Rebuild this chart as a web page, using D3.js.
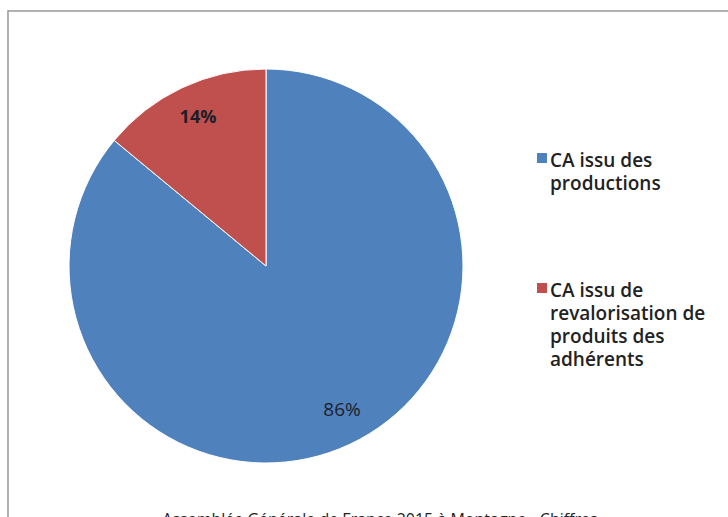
<!DOCTYPE html>
<html lang="fr">
<head>
<meta charset="UTF-8">
<title>CA</title>
<script src="https://d3js.org/d3.v7.min.js"></script>
<style>
  body { margin: 0; background: white; }
  svg { display: block; }
</style>
</head>
<body>
<svg width="728" height="517"></svg>
<script>
  const categories = ["CA issu des productions", "CA issu de revalorisation de produits des adhérents"];
  const values = [86, 14];
  const labels = ["86%", "14%"];
  const colorsList = ["#4F81BD", "#C0504D"];
  const legendLines = [["CA issu des", "productions"], ["CA issu de", "revalorisation de", "produits des", "adhérents"]];
  const caption = "Assemblée Générale de France 2015 à Montagne - Chiffres";

  const svg = d3.select("svg");

  // frame
  svg.append("rect").attr("x", 9).attr("y", 12).attr("width", 740).attr("height", 540)
    .attr("fill", "none").attr("stroke", "#e4e4e4").attr("stroke-width", 3);
  svg.append("rect").attr("x", 8).attr("y", 11).attr("width", 740).attr("height", 540)
    .attr("fill", "white").attr("stroke", "#9a9a9a").attr("stroke-width", 1.5);

  const cx = 266, cy = 266, r = 197;
  const color = d3.scaleOrdinal().domain(categories).range(colorsList);
  const pie = d3.pie().sort(null).value(d => d)(values);
  const arc = d3.arc().innerRadius(0).outerRadius(r);

  const g = svg.append("g").attr("transform", `translate(${cx},${cy})`);
  g.selectAll("path").data(pie).enter().append("path")
    .attr("d", arc)
    .attr("fill", (d, i) => color(categories[i]))
    .attr("stroke", "white").attr("stroke-width", 1);

  // label offsets from the centre
  const labelPos = [[76, 143], [-68, -150]];
  g.selectAll("text.lbl").data(pie).enter().append("text")
    .attr("class", "lbl")
    .attr("x", (d, i) => labelPos[i][0])
    .attr("y", (d, i) => labelPos[i][1])
    .attr("text-anchor", "middle")
    .attr("dominant-baseline", "central")
    .attr("font-family", "Open Sans, sans-serif")
    .attr("font-size", (d, i) => i === 1 ? 18 : 19)
    .attr("font-weight", (d, i) => i === 1 ? "bold" : "normal")
    .attr("fill", "#1e1e2a")
    .text((d, i) => labels[i]);

  // legend
  const legY = [158, 288];
  const leg = svg.append("g");
  categories.forEach((c, i) => {
    leg.append("rect").attr("x", 537).attr("y", legY[i] - 5).attr("width", 10).attr("height", 10)
      .attr("fill", color(c));
    legendLines[i].forEach((l, j) => {
      leg.append("text").attr("x", 550).attr("y", legY[i] + 9 + j * 23)
        .attr("font-family", "Open Sans, sans-serif").attr("font-size", 19)
        .attr("font-weight", 600).attr("fill", "#222")
        .text(l);
    });
  });

  svg.append("text").attr("x", 380).attr("y", 525)
    .attr("text-anchor", "middle")
    .attr("font-family", "Open Sans, sans-serif").attr("font-size", 16).attr("fill", "#222")
    .text(caption);
</script>
</body>
</html>
